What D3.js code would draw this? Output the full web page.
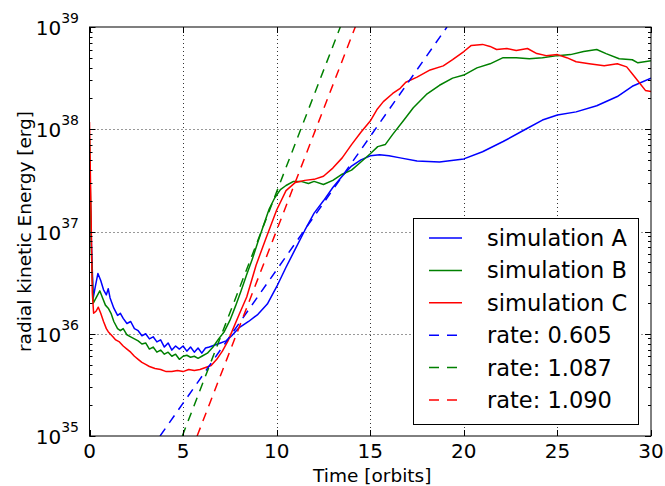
<!DOCTYPE html>
<html>
<head>
<meta charset="utf-8">
<script src="https://cdn.jsdelivr.net/npm/d3@7"></script>
<style>
body{margin:0;background:#fff;}
svg{display:block;font-family:"DejaVu Sans",sans-serif;}
</style>
</head>
<body>
<svg id="chart" width="665" height="486"></svg>
<script>
// ---------- data (log10 of energy in erg) ----------
const timeA=[0,0.1,0.2,0.3,0.45,0.6,0.75,0.9,1.0,1.1,1.3,1.5,1.65,1.8,2.0,2.2,2.4,2.6,2.8,3.0,3.2,3.4,3.6,3.8,4.0,4.2,4.4,4.6,4.8,5.0,5.2,5.4,5.6,5.8,6.0,6.2,6.4,6.7,7.0,7.3,7.6,8.0,8.5,9.0,9.5,10.0,10.5,11.0,11.5,12.0,12.5,13.0,13.5,14.0,14.5,15.0,15.5,16.0,16.6,17.5,18.7,20.0,21.0,22.1,23.2,24.2,25.0,26.0,27.1,28.2,29.0,30.0];
const logA=[37.6,36.9,36.35,36.45,36.59,36.52,36.43,36.38,36.44,36.35,36.25,36.18,36.2,36.15,36.1,36.12,36.05,36.03,35.98,36.0,35.95,35.97,35.92,35.94,35.87,35.91,35.84,35.88,35.85,35.88,35.83,35.87,35.82,35.86,35.81,35.86,35.87,35.89,35.91,35.93,35.98,36.06,36.12,36.19,36.29,36.46,36.65,36.83,37.01,37.18,37.3,37.43,37.54,37.64,37.7,37.74,37.75,37.74,37.72,37.69,37.68,37.71,37.78,37.88,37.99,38.09,38.14,38.17,38.23,38.32,38.42,38.5];

const timeB=[0,0.1,0.2,0.35,0.55,0.7,0.85,1.0,1.15,1.3,1.5,1.65,1.8,2.0,2.2,2.4,2.6,2.8,3.0,3.2,3.4,3.6,3.8,4.0,4.2,4.4,4.6,4.8,5.0,5.2,5.4,5.6,5.8,6.0,6.3,6.6,6.9,7.2,7.5,7.8,8.1,8.4,8.7,9.0,9.3,9.6,9.9,10.2,10.5,10.9,11.3,11.7,12.0,12.5,13.0,13.5,14.0,14.5,15.0,15.4,15.8,16.2,16.8,17.3,18.0,18.7,19.4,20.0,20.7,21.4,22.1,22.8,23.5,24.2,25.0,25.7,26.4,27.1,27.6,28.3,29.0,29.3,30.0];
const logB=[37.9,36.8,36.3,36.35,36.42,36.35,36.28,36.25,36.2,36.12,36.05,36.03,36.05,35.99,35.97,35.95,35.93,35.9,35.91,35.85,35.87,35.82,35.84,35.8,35.82,35.78,35.8,35.75,35.78,35.79,35.77,35.78,35.76,35.78,35.81,35.87,35.95,36.02,36.13,36.27,36.42,36.58,36.73,36.9,37.06,37.22,37.33,37.41,37.45,37.49,37.49,37.47,37.49,37.46,37.5,37.56,37.6,37.68,37.76,37.83,37.85,37.95,38.09,38.21,38.34,38.43,38.5,38.53,38.6,38.64,38.7,38.7,38.69,38.7,38.72,38.73,38.76,38.78,38.74,38.69,38.68,38.65,38.67];

const timeC=[0,0.08,0.15,0.22,0.35,0.47,0.6,0.75,0.9,1.0,1.1,1.25,1.4,1.6,1.8,2.0,2.2,2.4,2.6,2.8,3.0,3.2,3.5,3.8,4.1,4.4,4.7,5.0,5.3,5.6,5.9,6.2,6.5,6.8,7.1,7.4,7.7,8.0,8.4,8.9,9.4,10.0,10.5,11.0,11.5,12.0,12.5,13.0,13.5,14.0,14.5,15.0,15.35,15.7,16.2,16.6,16.9,17.5,18.2,18.9,19.4,20.0,20.4,21.0,21.4,21.75,22.3,22.8,23.4,23.9,24.4,25.0,25.5,26.0,26.7,27.5,28.2,28.7,29.05,29.4,29.7,30.0];
const logC=[38.07,37.2,36.4,36.2,36.22,36.26,36.2,36.12,36.05,36.02,36.0,35.97,35.94,35.92,35.88,35.85,35.82,35.78,35.75,35.72,35.7,35.68,35.66,35.65,35.63,35.63,35.64,35.63,35.65,35.64,35.65,35.67,35.69,35.75,35.83,35.93,36.06,36.19,36.36,36.67,36.92,37.21,37.4,37.48,37.5,37.51,37.54,37.62,37.72,37.85,37.97,38.08,38.19,38.27,38.35,38.4,38.46,38.51,38.58,38.62,38.68,38.76,38.82,38.83,38.81,38.78,38.79,38.77,38.79,38.74,38.72,38.73,38.7,38.66,38.64,38.62,38.64,38.61,38.53,38.45,38.38,38.37];

// fitted growth lines: [time, log10 E] end points
const fitA=[[3.77,35],[19.1,39]];
const fitB=[[4.96,35],[13.4,39]];
const fitC=[[5.75,35],[14.2,39]];

const legendLabels=["simulation A","simulation B","simulation C","rate: 0.605","rate: 1.087","rate: 1.090"];
const xTicks=[0,5,10,15,20,25,30];
const yDecades=[35,36,37,38,39];

// ---------- layout ----------
const svg=d3.select("#chart");
const L=89.5,R=651,T=27,B=436;
const x=d3.scaleLinear().domain([0,30]).range([L,R]);
const y=d3.scaleLog().domain([1e35,1e39]).range([B,T]);

svg.append("defs").append("clipPath").attr("id","plot-clip")
  .append("rect").attr("x",L).attr("y",T).attr("width",R-L).attr("height",B-T);

// ---------- grid ----------
const grid=svg.append("g");
xTicks.slice(1,-1).forEach(t=>{
  grid.append("line").attr("x1",Math.round(x(t))+0.5).attr("x2",Math.round(x(t))+0.5)
    .attr("y1",T).attr("y2",B);
});
yDecades.slice(1,-1).forEach(d=>{
  const yy=Math.round(y(Math.pow(10,d)))+0.5;
  grid.append("line").attr("x1",L).attr("x2",R).attr("y1",yy).attr("y2",yy);
});
grid.selectAll("line").attr("stroke","#333").attr("stroke-width",1).attr("stroke-dasharray","1,3");

// ---------- series ----------
const colors=["#0000ff","#008000","#ff0000"];
const series=[[timeA,logA],[timeB,logB],[timeC,logC]];
const fits=[fitA,fitB,fitC];
const line=d3.line().x(d=>x(d[0])).y(d=>y(Math.pow(10,d[1])));
const plot=svg.append("g").attr("clip-path","url(#plot-clip)");

series.forEach((s,i)=>{
  plot.append("path")
    .datum(s[0].map((t,j)=>[t,s[1][j]]))
    .attr("d",line)
    .attr("fill","none")
    .attr("stroke",colors[i])
    .attr("stroke-width",1.5)
    .attr("stroke-linejoin","round");
});
fits.forEach((f,i)=>{
  plot.append("path")
    .datum(f)
    .attr("d",line)
    .attr("fill","none")
    .attr("stroke",colors[i])
    .attr("stroke-width",1.5)
    .attr("stroke-dasharray","9,7");
});

// ---------- frame and ticks ----------
const axes=svg.append("g").attr("stroke","#000").attr("stroke-width",1);
axes.append("rect").attr("x",L).attr("y",T).attr("width",R-L).attr("height",B-T).attr("fill","none");
xTicks.forEach(t=>{
  const xx=Math.round(x(t))+0.5;
  axes.append("line").attr("x1",xx).attr("x2",xx).attr("y1",B).attr("y2",B-6);
  axes.append("line").attr("x1",xx).attr("x2",xx).attr("y1",T).attr("y2",T+6);
});
yDecades.forEach(d=>{
  const yy=Math.round(y(Math.pow(10,d)))+0.5;
  axes.append("line").attr("x1",L).attr("x2",L+6).attr("y1",yy).attr("y2",yy);
  axes.append("line").attr("x1",R).attr("x2",R-6).attr("y1",yy).attr("y2",yy);
  if(d<39){
    for(let m=2;m<10;m++){
      const ym=Math.round(y(m*Math.pow(10,d)))+0.5;
      axes.append("line").attr("x1",L).attr("x2",L+3).attr("y1",ym).attr("y2",ym);
      axes.append("line").attr("x1",R).attr("x2",R-3).attr("y1",ym).attr("y2",ym);
    }
  }
});

// ---------- tick labels ----------
xTicks.forEach(t=>{
  svg.append("text").attr("x",x(t)).attr("y",B+22)
    .attr("text-anchor","middle").attr("font-size",20).text(t);
});
yDecades.forEach(d=>{
  const tx=svg.append("text").attr("x",79).attr("y",y(Math.pow(10,d))+8)
    .attr("text-anchor","end").attr("font-size",20);
  tx.append("tspan").text("10");
  tx.append("tspan").attr("dy",-12).attr("font-size",14).text(d);
});

// ---------- axis labels ----------
svg.append("text").attr("x",(L+R)/2+2).attr("y",482)
  .attr("text-anchor","middle").attr("font-size",18.5).text("Time [orbits]");
svg.append("text").attr("transform",`translate(31,${(T+B)/2}) rotate(-90)`)
  .attr("text-anchor","middle").attr("font-size",18.5).text("radial kinetic Energy [erg]");

// ---------- legend ----------
const lg=svg.append("g");
lg.append("rect").attr("x",413.5).attr("y",218.5).attr("width",225).attr("height",206)
  .attr("fill","#fff").attr("stroke","#000").attr("stroke-width",1);
legendLabels.forEach((lab,i)=>{
  const yy=238+i*32.4;
  lg.append("line").attr("x1",429).attr("x2",462).attr("y1",yy).attr("y2",yy)
    .attr("stroke",colors[i%3]).attr("stroke-width",1.5)
    .attr("stroke-dasharray",i<3?null:"10,8");
  lg.append("text").attr("x",487).attr("y",yy+8).attr("font-size",22.5).text(lab);
});
</script>
</body>
</html>
